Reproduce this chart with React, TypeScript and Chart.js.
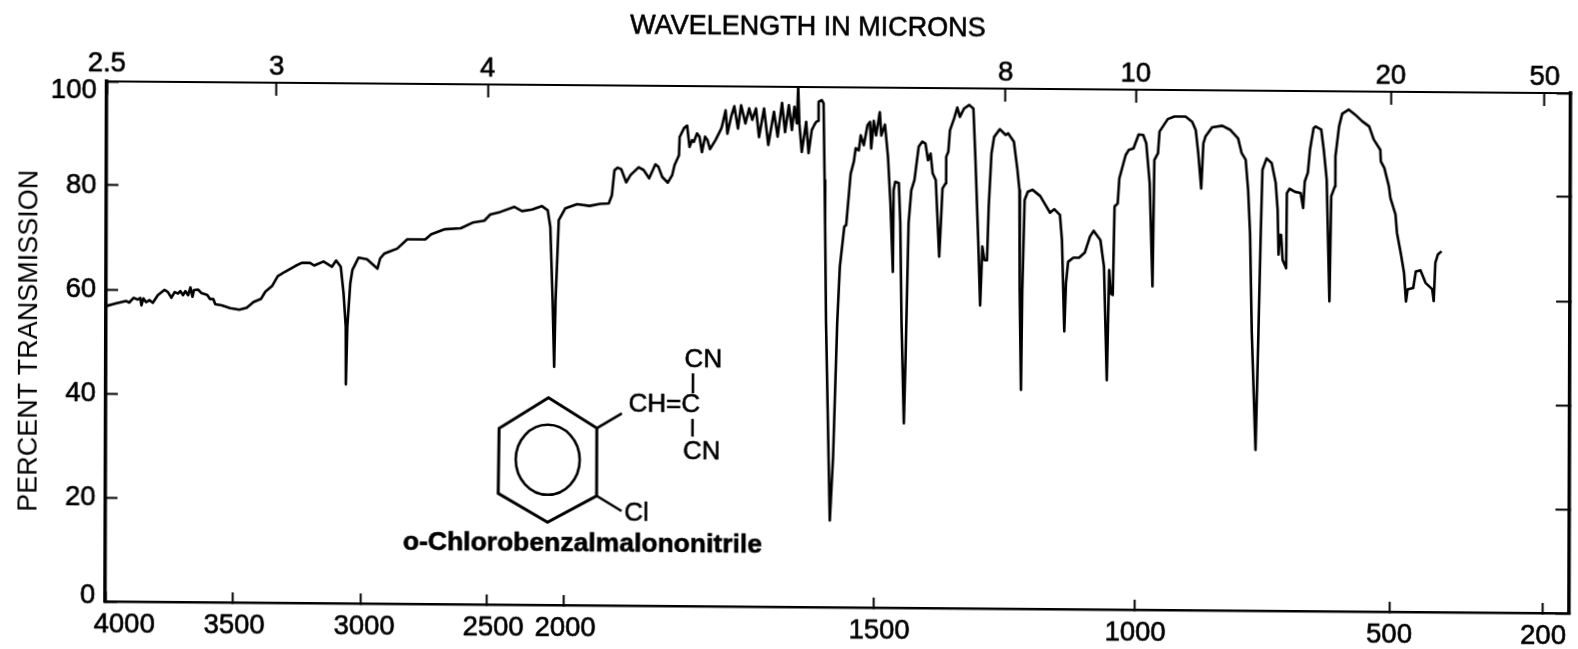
import React, { useEffect, useRef } from "react";
import { Chart, registerables, LinearScale } from "chart.js";

// ---- axis definitions ----
const wavenumberStops = [4000, 3500, 3000, 2500, 2000, 1500, 1000, 500, 200, 149];
const paperFractions = [0, 0.08675, 0.17486, 0.26025, 0.31352, 0.52527, 0.70287, 0.87705, 0.98224, 1];
const wavenumberTicks = [4000, 3500, 3000, 2500, 2000, 1500, 1000, 500, 200];
const wavelengthTicks = [2.5, 3, 4, 8, 10, 20, 50];
const transmissionTicks = [0, 20, 40, 60, 80, 100];

// ---- spectrum, wavenumber (cm-1) and percent transmission ----
const wnHigh = [3999,3962,3922,3909,3892,3876,3865,3861,3853,3842,3829,3816,3796,3770,3757,3743,3730,3717,3708,3697,3688,3677,3668,3660,3654,3638,3624,3602,3591,3578,3570,3545,3512,3476,3447,3421,3392,3375,3349,3327,3298,3259,3234,3202,3186,3150,3117,3101,3083,3072,3063,3062,3057,3046,3038,3014,2981,2955,2939,2928,2912,2892,2860,2820,2748,2724,2669,2606,2559,2512,2481,2417,2328,2278,2214,2151,2113,2096,2080,2069,2061,2042];
const tHigh = [56.8,57.3,57.8,57.5,58.4,58.1,58.4,57.0,58.3,57.6,58.0,57.5,59.0,60.0,59.6,58.5,59.6,59.3,59.8,59.0,59.8,59.0,60.5,58.7,60.0,60.1,59.4,59.1,58.3,58.3,57.3,57.1,56.6,56.3,56.7,57.8,58.4,59.8,60.9,62.8,63.7,64.8,65.4,65.4,64.9,65.7,64.7,65.9,64.7,59.7,53.2,42.1,53.2,61.5,64.1,66.5,66.2,65.1,64.4,66.4,67.3,67.7,68.3,70.1,70.1,71.1,72.1,72.3,73.4,73.8,75.0,75.5,76.5,75.7,76.0,76.7,75.9,72.7,58.6,45.8,58.6,74.0];

const wnMid = [2000,1981,1961,1944,1930,1925,1921,1916,1910,1902,1895,1882,1874,1865,1855,1850,1844,1835,1828,1824,1817,1816,1809,1804,1800,1796,1793,1788,1784,1780,1775,1771,1767,1758,1750,1748,1742,1739,1733,1728,1722,1717,1710,1704,1699,1693,1688,1680,1673,1664,1658,1651,1646,1640,1635,1631,1627,1625,1623,1619,1612,1608,1603,1599,1596,1593,1592,1587,1584];
const tMid = [76.3,77.1,76.8,77.2,77.3,78.9,83.7,84.2,83.9,81.4,82.8,84.3,83.8,82.2,84.9,84.4,82.5,81.4,82.8,84.8,86.7,90.2,91.9,92.4,88.3,89.6,89.3,90.9,90.3,87.3,90.3,89.6,87.9,89.7,91.6,92.2,95.4,90.9,94.2,96.2,91.9,96.4,92.9,95.8,93.6,95.8,90.3,95.8,88.8,95.2,90.4,96.9,91.3,96.5,91.7,96.2,93.0,100.0,93.0,87.5,93.3,87.3,91.7,92.7,93.3,93.5,97.2,97.5,96.9];

const wnFinger = [1582,1581,1579,1572,1567,1561,1557,1550,1547,1540,1535,1532,1527,1524,1519,1513,1509,1507,1503,1499,1492,1489,1482,1476,1471,1466,1465,1462,1455,1452,1449,1444,1441,1436,1431,1425,1417,1410,1404,1399,1394,1390,1384,1377,1374,1371,1365,1364,1360,1357,1349,1343,1338,1330,1320,1312,1308,1302,1298,1294,1290,1285,1282,1277,1272,1261,1250,1245,1234,1227,1223,1222,1219,1217,1213,1207,1198,1183,1173,1164,1156,1145,1141,1136,1133,1129,1119,1108,1097,1087,1080,1067,1060,1054,1050,1047,1043,1040,1034,1031,1019,1013,1004];
const tFinger = [82.1,73.8,54.6,16.7,28.9,54.6,65.5,73.2,73.5,83.4,85.7,88.3,87.9,90.8,88.9,92.8,93.4,88.3,93.6,90.8,95.3,90.8,92.9,86.7,77.7,64.6,80.3,81.9,81.7,74.0,54.8,35.5,48.3,74.0,80.3,82.3,88.7,89.7,89.3,86.1,87.4,83.6,82.3,67.6,74.0,80.7,81.7,86.8,87.8,91.9,94.2,96.3,94.5,96.1,96.8,96.1,86.8,70.8,58.3,69.6,67.0,67.0,77.3,87.5,90.7,92.2,91.1,91.4,89.8,84.4,80.5,61.3,42.1,61.3,78.6,80.2,80.6,79.4,77.7,76.2,76.9,75.8,71.0,53.4,62.7,66.8,67.6,67.6,68.6,71.7,72.8,71.0,65.9,44.1,65.3,60.8,60.5,77.5,78.1,82.9,87.4,88.4,88.7];

const wnLow = [994,985,979,972,966,963,956,953,937,924,902,889,882,877,871,867,863,850,830,814,799,792,784,779,775,771,763,758,754,751,743,733,725,721,719,717,714,711,704,703,698,687,676,671,668,662,658,651,647,636,631,625,619,616,609,608,601,595,582,569,556,542,533,520,519,512,503,500,490,487,479,473,469,466,455,450,441,431,418,415,412,407,400];
const tLow = [91.4,91.3,89.7,82.0,62.2,86.5,87.8,92.0,94.4,94.9,94.9,93.9,92.3,87.9,81.1,89.8,91.1,92.9,93.2,92.4,90.8,88.0,86.7,80.9,72.6,53.4,30.9,53.4,72.6,84.8,87.0,86.1,82.3,77.1,68.5,72.3,72.3,67.5,65.9,80.3,81.2,80.6,80.4,77.5,82.6,84.3,88.7,92.9,93.2,92.6,88.8,83.0,59.6,79.8,81.7,87.5,93.3,95.7,96.5,95.5,94.3,93.3,90.8,88.8,86.6,85.3,81.8,79.6,76.4,72.9,68.7,65.2,59.7,62.0,62.3,65.5,65.7,63.3,62.1,59.8,67.2,68.8,69.4];

const wavenumbers = [...wnHigh, ...wnMid, ...wnFinger, ...wnLow];
const transmission = [...tHigh, ...tMid, ...tFinger, ...tLow];

const FONT = "'Liberation Sans', Arial, sans-serif";
const tickLabelNudges: Record<string, Record<string, [number, number]>> = {
  y: { "100": [0, 9], "0": [0, -6] },
  x: { "3500": [2, 0], "3000": [3, 0], "2500": [7, 0], "2000": [1, 0], "1500": [5, 0], "1000": [1, 0] },
  xTop: { "2.5": [0, -2] },
};

class WavenumberScale extends LinearScale {
  static id = "wavenumber";
  static defaults = {};
  getPixelForValue(value: number) {
    let i = 0;
    while (i < wavenumberStops.length - 2 && value < wavenumberStops[i + 1]) i++;
    const a = wavenumberStops[i], b = wavenumberStops[i + 1];
    const fa = paperFractions[i], fb = paperFractions[i + 1];
    const f = fa + ((a - value) / (a - b)) * (fb - fa);
    return (this as any).left + f * (this as any).width;
  }
  getValueForPixel(pixel: number) {
    const f = (pixel - (this as any).left) / (this as any).width;
    let i = 0;
    while (i < paperFractions.length - 2 && f > paperFractions[i + 1]) i++;
    const t = (f - paperFractions[i]) / (paperFractions[i + 1] - paperFractions[i]);
    return wavenumberStops[i] + t * (wavenumberStops[i + 1] - wavenumberStops[i]);
  }
}

Chart.register(...registerables, WavenumberScale as any);

const labelNudgePlugin = {
  id: "labelNudge",
  beforeDraw(chart: any) {
    for (const id of Object.keys(tickLabelNudges)) {
      const items = chart.scales[id].getLabelItems(chart.chartArea);
      for (const item of items) {
        const n = tickLabelNudges[id][String(item.label)];
        if (n && !item.__nudged) {
          item.options.translation = [item.options.translation[0] + n[0], item.options.translation[1] + n[1]];
          item.__nudged = true;
        }
      }
    }
  },
};

const annotationPlugin = {
  id: "annotations",
  afterDraw(chart: any) {
    const ctx = chart.ctx;
    ctx.save();
    ctx.fillStyle = "#000";
    ctx.strokeStyle = "#000";
    ctx.textAlign = "center";
    ctx.textBaseline = "middle";
    const label = (s: string, x: number, y: number) => {
      ctx.lineWidth = 0.6;
      ctx.strokeText(s, x, y);
      ctx.fillText(s, x, y);
    };
    ctx.font = `27px ${FONT}`;
    label("WAVELENGTH IN MICRONS", 808, 20.5);

    ctx.translate(1.4, -4.5);
    ctx.lineWidth = 3;
    ctx.lineJoin = "miter";
    const hex = [[548.3, 397.3], [596.7, 427.3], [596.7, 495], [547.7, 521.7], [498.3, 493.3], [499, 428.3]];
    ctx.beginPath();
    hex.forEach(([x, y], i) => (i ? ctx.lineTo(x, y) : ctx.moveTo(x, y)));
    ctx.closePath();
    ctx.stroke();
    ctx.lineWidth = 2.6;
    ctx.beginPath();
    ctx.ellipse(547.7, 459.3, 32, 35, 0, 0, Math.PI * 2);
    ctx.stroke();
    const bonds = [
      [596.7, 427.3, 621.7, 412.3],
      [596.7, 495, 621.7, 510],
      [692.7, 371.7, 692.7, 391.7],
      [692.4, 417.3, 692.4, 435],
    ];
    ctx.lineWidth = 2.6;
    for (const [a, b, c, d] of bonds) {
      ctx.beginPath();
      ctx.moveTo(a, b);
      ctx.lineTo(c, d);
      ctx.stroke();
    }
    ctx.font = `26px ${FONT}`;
    label("CH=C", 664, 403.3);
    label("CN", 703, 358);
    label("CN", 701.7, 450);
    label("Cl", 636.7, 512.7);
    ctx.font = `bold 26.5px ${FONT}`;
    label("o-Chlorobenzalmalononitrile", 582.7, 543);
    ctx.restore();
  },
};

const zeroHorizontalPadding = (s: any) => {
  s.paddingLeft = 0;
  s.paddingRight = 0;
};

export default function App() {
  const ref = useRef<HTMLCanvasElement>(null);
  useEffect(() => {
    document.body.style.margin = "0";
    const tickFont = { family: FONT, size: 27.5 };
    const heavy = { textStrokeWidth: 0.6, textStrokeColor: "#000" };
    const chart = new Chart(ref.current as HTMLCanvasElement, {
      type: "line",
      data: {
        datasets: [
          {
            data: wavenumbers.map((x, i) => ({ x, y: transmission[i] })),
            borderColor: "#000",
            borderWidth: 2.6,
            pointRadius: 0,
            tension: 0,
            fill: false,
            borderJoinStyle: "round",
            xAxisID: "x",
            yAxisID: "y",
          },
        ],
      },
      options: {
        responsive: false,
        animation: false,
        layout: { padding: 0 },
        plugins: { legend: { display: false }, tooltip: { enabled: false } },
        scales: {
          x: {
            type: "wavenumber",
            position: "bottom",
            min: 149,
            max: 4000,
            afterFit: (s: any) => { s.height = 49; zeroHorizontalPadding(s); },
            afterBuildTicks: (s: any) => { s.ticks = wavenumberTicks.map((value) => ({ value })); },
            grid: { drawOnChartArea: false, tickLength: -10, tickWidth: 2, tickColor: "#000" },
            border: { display: true, width: 2.5, color: "#000" },
            ticks: {
              autoSkip: false, maxRotation: 0, color: "#000", font: tickFont, padding: 17, ...heavy,
              callback: (v: number) => (v === 4000 ? "     4000" : String(v)),
            },
          },
          xTop: {
            type: "wavenumber",
            position: "top",
            min: 149,
            max: 4000,
            afterFit: (s: any) => { s.height = 80; zeroHorizontalPadding(s); },
            afterBuildTicks: (s: any) => { s.ticks = wavelengthTicks.map((w) => ({ value: 10000 / w })); },
            grid: { drawOnChartArea: false, tickLength: -13, tickWidth: 2, tickColor: "#000" },
            border: { display: true, width: 2, color: "#000" },
            ticks: {
              autoSkip: false, maxRotation: 0, color: "#000", font: tickFont, padding: 12, ...heavy,
              callback: (_v: number, i: number) => String(wavelengthTicks[i]),
            },
          },
          y: {
            position: "left",
            min: 0,
            max: 100,
            afterFit: (s: any) => { s.width = 107; },
            afterBuildTicks: (s: any) => { s.ticks = transmissionTicks.map((value) => ({ value })); },
            grid: { drawOnChartArea: false, tickLength: -12, tickWidth: 2, tickColor: "#000" },
            border: { display: true, width: 3.5, color: "#000" },
            ticks: { color: "#000", font: tickFont, padding: 22, ...heavy },
            title: {
              display: true,
              text: "PERCENT TRANSMISSION",
              color: "#000",
              font: { family: FONT, size: 27, weight: "normal" },
              padding: { top: 14, bottom: 0 },
            },
          },
          yRight: {
            position: "right",
            min: 0,
            max: 100,
            afterFit: (s: any) => { s.width = 7; },
            afterBuildTicks: (s: any) => { s.ticks = transmissionTicks.map((value) => ({ value })); },
            grid: { drawOnChartArea: false, tickLength: -14, tickWidth: 2, tickColor: "#000" },
            border: { display: true, width: 3.5, color: "#000" },
            ticks: { display: false },
          },
        },
      } as any,
      plugins: [labelNudgePlugin, annotationPlugin],
    } as any);
    return () => chart.destroy();
  }, []);
  return (
    <div style={{ position: "fixed", left: 0, top: 0, width: 1578, height: 649, overflow: "hidden", background: "#fff" }}>
      <canvas
        ref={ref}
        width={1578}
        height={649}
        style={{
          display: "block",
          width: 1578,
          height: 649,
          transformOrigin: "0 0",
          transform: "matrix(1, 0.0081, -0.003, 1, 0, 0.5)",
        }}
      />
    </div>
  );
}
